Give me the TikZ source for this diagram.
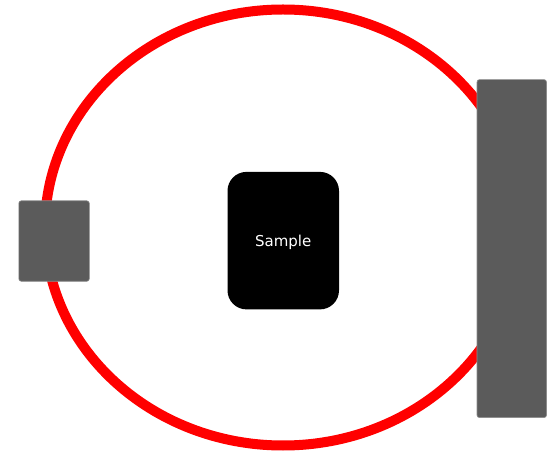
\documentclass[tikz,border=0pt]{standalone}
\usepackage{fontspec}
\newfontfamily\labelfont{DejaVu Sans}
\definecolor{ringred}{HTML}{FF0000}
\definecolor{portgray}{HTML}{5B5B5B}
\begin{document}
\begin{tikzpicture}[x=1pt,y=-1pt,
  port/.style={draw=portgray!70!white,line width=0.6pt,fill=portgray,rounded corners=2.5pt,inner sep=0pt,anchor=north west},
  samplebox/.style={fill=black,rounded corners=19pt,inner sep=0pt,anchor=north west,text=white,font=\labelfont\fontsize{14.5}{17}\selectfont}]
\useasboundingbox (0,0) rectangle (549,454);
\draw[ringred,line width=10pt] (283,227.5) ellipse [x radius=238, y radius=218];
\node[port,minimum width=70.5pt,minimum height=80.5pt] (left) at (18.5,200.5) {};
\node[port,minimum width=69.5pt,minimum height=338pt] (right) at (476.7,79.3) {};
\node[samplebox,minimum width=111.5pt,minimum height=137.5pt] (sample) at (227.3,171.7) {};
\node[text=white,font=\labelfont\fontsize{15}{17}\selectfont,yshift=-2pt] (label) at (sample.center) {Sample};
\end{tikzpicture}
\end{document}
